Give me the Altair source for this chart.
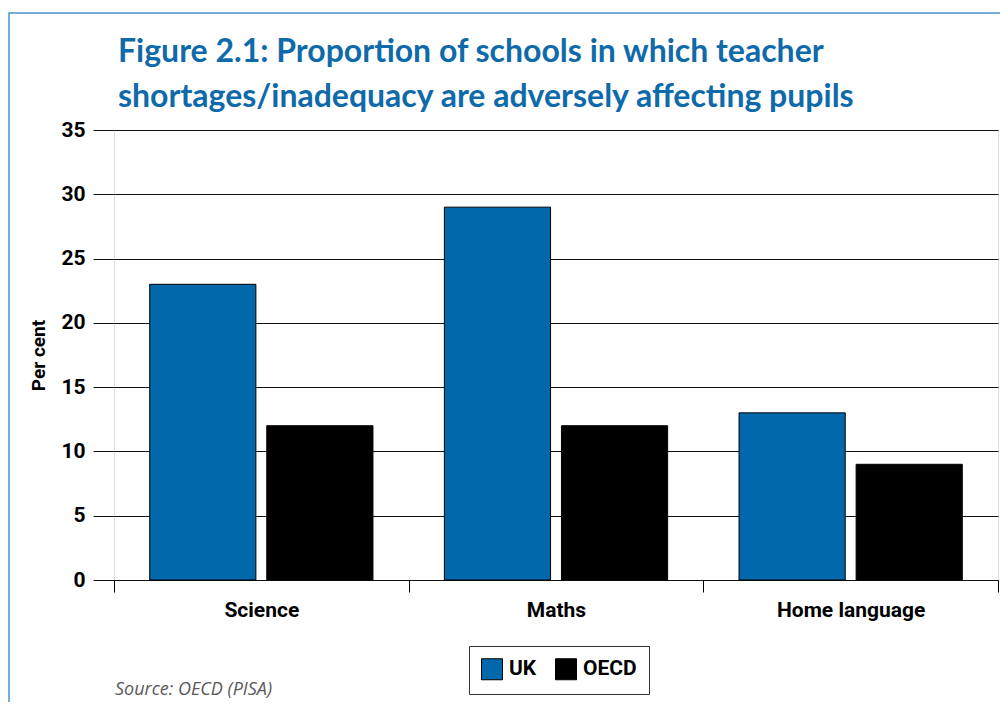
import altair as alt
import pandas as pd

title_lines = ["Figure 2.1: Proportion of schools in which teacher",
               "shortages/inadequacy are adversely affecting pupils"]
subjects = ["Science", "Maths", "Home language"]
uk_values = [23, 29, 13]
oecd_values = [12, 12, 9]
series = ["UK", "OECD"]
series_colors = ["#0068ab", "#000000"]
y_ticks = [0, 5, 10, 15, 20, 25, 30, 35]
y_title = "Per cent"
source_text = "Source: OECD (PISA)"

rows = []
for s, u, o in zip(subjects, uk_values, oecd_values):
    rows.append({"subject": s, "series": "UK", "value": u})
    rows.append({"subject": s, "series": "OECD", "value": o})
df = pd.DataFrame(rows)

FONT = "Roboto, sans-serif"

bars = alt.Chart(df).mark_bar(stroke="#000000", strokeWidth=1).encode(
    x=alt.X("subject:N", sort=subjects,
            scale=alt.Scale(paddingInner=0, paddingOuter=0),
            axis=alt.Axis(title=None, labelAngle=0, tickBand="extent", tickSize=12,
                          tickColor="#000000", domain=False, grid=False,
                          labelFont=FONT, labelFontSize=21, labelFontWeight="bold",
                          labelColor="#000000", labelPadding=7)),
    xOffset=alt.XOffset("series:N", sort=series,
                        scale=alt.Scale(domain=series, paddingInner=0.093, paddingOuter=0.305)),
    y=alt.Y("value:Q", scale=alt.Scale(domain=[0, 35], nice=False),
            axis=alt.Axis(values=y_ticks, title=y_title, grid=True, gridColor="#111111",
                          gridWidth=1, tickSize=21, tickColor="#111111", domain=False,
                          labelFont=FONT, labelFontSize=21, labelFontWeight="bold",
                          labelColor="#000000", labelPadding=8,
                          titleFont=FONT, titleFontSize=19, titleFontWeight="bold",
                          titleColor="#000000", titlePadding=12)),
    color=alt.Color("series:N", sort=series,
                    scale=alt.Scale(domain=series, range=series_colors),
                    legend=alt.Legend(title=None, orient="none", direction="horizontal",
                                      legendX=355, legendY=516, padding=12,
                                      strokeColor="#333333",
                                      symbolType="square", symbolSize=441,
                                      symbolStrokeColor="#000000", symbolStrokeWidth=1,
                                      symbolOpacity=1,
                                      labelFont=FONT, labelFontSize=21, labelFontWeight="bold",
                                      labelColor="#000000", labelOffset=6,
                                      columnPadding=16)),
)

frame = alt.Chart(pd.DataFrame({"k": [0]})).mark_rect(
    fill=None, stroke="#4a92c6", strokeWidth=1.5, clip=False
).encode(x=alt.value(-105), x2=alt.value(900), y=alt.value(-117), y2=alt.value(600))

title = alt.Chart(pd.DataFrame({"t": ["\n".join(title_lines)]})).mark_text(
    align="left", baseline="alphabetic", font="Lato, Roboto, sans-serif", fontWeight="bold",
    fontSize=32, color="#0f6aaa", lineBreak="\n", lineHeight=45
).encode(x=alt.value(4), y=alt.value(-68), text="t:N")

source = alt.Chart(pd.DataFrame({"t": [source_text]})).mark_text(
    align="left", baseline="alphabetic", font="Open Sans", fontStyle="italic",
    fontSize=18, color="#5a5a5a"
).encode(x=alt.value(1), y=alt.value(565), text="t:N")

chart = alt.layer(frame, title, bars, source).properties(
    width=884, height=450,
    autosize=alt.AutoSizeParams(type="none"),
    padding={"left": 106, "top": 122, "right": 2, "bottom": 122},
).configure_view(stroke="#000000", strokeWidth=1).configure(background="white")

chart.save("out.html", embed_options={"renderer": "svg", "actions": False})
